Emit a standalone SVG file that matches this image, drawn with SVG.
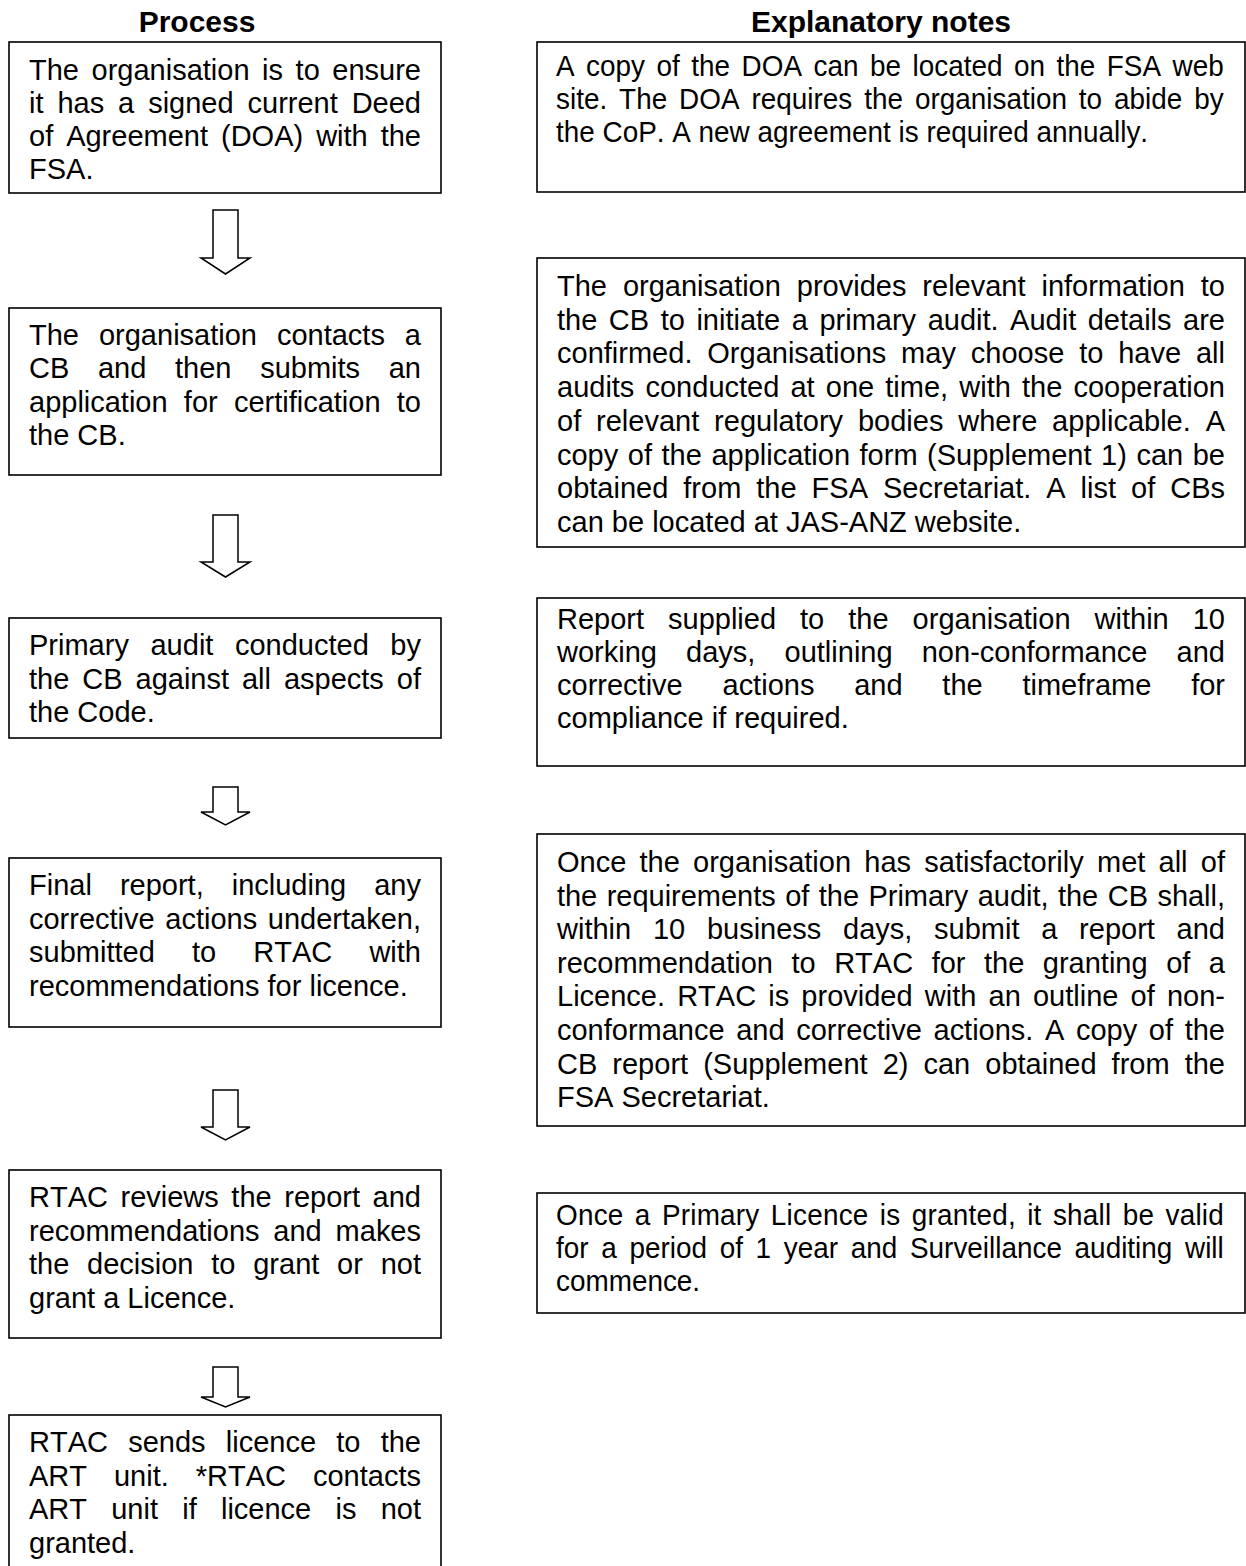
<svg xmlns="http://www.w3.org/2000/svg" width="1246" height="1566" viewBox="0 0 1246 1566">
<style>
.box{fill:#fff;stroke:#000;stroke-width:1.6}
.arr{fill:#fff;stroke:#000;stroke-width:1.5;stroke-linejoin:miter}
.t{font-family:"Liberation Sans",Arial,sans-serif;font-size:29px;fill:#000;font-kerning:none}
.n{font-family:"Liberation Sans",Arial,sans-serif;font-size:30px;fill:#000;font-kerning:none}
.h{font-family:"Liberation Sans",Arial,sans-serif;font-size:30px;font-weight:bold;fill:#000;text-anchor:middle}
</style>
<rect width="1246" height="1566" fill="#fff"/>
<g id="titles">
<text class="h" x="197" y="32">Process</text>
<text class="h" x="881" y="32">Explanatory notes</text>
</g>
<g id="connectors">
<path class="arr" d="M213,210 H238 V258 H250 L225.5,274 L201,258 H213 Z"/>
<path class="arr" d="M213,515 H238 V562 H250 L225.5,577 L201,562 H213 Z"/>
<path class="arr" d="M213,787 H238 V812 H250 L225.5,825 L201,812 H213 Z"/>
<path class="arr" d="M213,1090 H238 V1127 H250 L225.5,1140 L201,1127 H213 Z"/>
<path class="arr" d="M213,1367 H238 V1397 H250 L225.5,1407 L201,1397 H213 Z"/>
</g>
<g id="p1">
<rect class="box" x="9" y="42" width="432" height="151"/>
<text class="t" x="29" y="80" word-spacing="4.5" textLength="392">The organisation is to ensure</text>
<text class="t" x="29" y="113" word-spacing="5.9" textLength="392">it has a signed current Deed</text>
<text class="t" x="29" y="146" word-spacing="4.9" textLength="392">of Agreement (DOA) with the</text>
<text class="t" x="29" y="179">FSA.</text>
</g>
<g id="p2">
<rect class="box" x="9" y="308" width="432" height="167"/>
<text class="t" x="29" y="345" word-spacing="11.9" textLength="392">The organisation contacts a</text>
<text class="t" x="29" y="378" word-spacing="20.6" textLength="392">CB and then submits an</text>
<text class="t" x="29" y="411.5" word-spacing="8.2" textLength="392">application for certification to</text>
<text class="t" x="29" y="445">the CB.</text>
</g>
<g id="p3">
<rect class="box" x="9" y="618" width="432" height="120"/>
<text class="t" x="29" y="655" word-spacing="13.5" textLength="392">Primary audit conducted by</text>
<text class="t" x="29" y="688.5" word-spacing="4.9" textLength="392">the CB against all aspects of</text>
<text class="t" x="29" y="722">the Code.</text>
</g>
<g id="p4">
<rect class="box" x="9" y="858" width="432" height="169"/>
<text class="t" x="29" y="895" word-spacing="20" textLength="392">Final report, including any</text>
<text class="t" x="29" y="928.5" word-spacing="2.6" textLength="392">corrective actions undertaken,</text>
<text class="t" x="29" y="962" word-spacing="29.1" textLength="392">submitted to RTAC with</text>
<text class="t" x="29" y="995.5">recommendations for licence.</text>
</g>
<g id="p5">
<rect class="box" x="9" y="1170" width="432" height="168"/>
<text class="t" x="29" y="1207" word-spacing="4.5" textLength="392">RTAC reviews the report and</text>
<text class="t" x="29" y="1240.5" word-spacing="5.8" textLength="392">recommendations and makes</text>
<text class="t" x="29" y="1274" word-spacing="9.7" textLength="392">the decision to grant or not</text>
<text class="t" x="29" y="1307.5">grant a Licence.</text>
</g>
<g id="p6">
<rect class="box" x="9" y="1415" width="432" height="170"/>
<text class="t" x="29" y="1452" word-spacing="12.2" textLength="392">RTAC sends licence to the</text>
<text class="t" x="29" y="1485.5" word-spacing="18.9" textLength="392">ART unit. *RTAC contacts</text>
<text class="t" x="29" y="1519" word-spacing="16.2" textLength="392">ART unit if licence is not</text>
<text class="t" x="29" y="1552.5">granted.</text>
</g>
<g id="n1">
<rect class="box" x="537" y="42" width="708" height="150"/>
<text class="n" transform="translate(556,76) scale(0.93,1)" word-spacing="4" textLength="718">A copy of the DOA can be located on the FSA web</text>
<text class="n" transform="translate(556,109) scale(0.93,1)" word-spacing="4.5" textLength="718">site. The DOA requires the organisation to abide by</text>
<text class="n" transform="translate(556,142) scale(0.93,1)">the CoP. A new agreement is required annually.</text>
</g>
<g id="n2">
<rect class="box" x="537" y="258" width="708" height="289"/>
<text class="t" x="557" y="296" word-spacing="7.9" textLength="668">The organisation provides relevant information to</text>
<text class="t" x="557" y="329.7" word-spacing="3.5" textLength="668">the CB to initiate a primary audit. Audit details are</text>
<text class="t" x="557" y="363.4" word-spacing="6.8" textLength="668">confirmed. Organisations may choose to have all</text>
<text class="t" x="557" y="397.1" word-spacing="3.1" textLength="668">audits conducted at one time, with the cooperation</text>
<text class="t" x="557" y="430.8" word-spacing="6.8" textLength="668">of relevant regulatory bodies where applicable. A</text>
<text class="t" x="557" y="464.5" word-spacing="1.5" textLength="668">copy of the application form (Supplement 1) can be</text>
<text class="t" x="557" y="498.2" word-spacing="6.9" textLength="668">obtained from the FSA Secretariat. A list of CBs</text>
<text class="t" x="557" y="531.9">can be located at JAS-ANZ website.</text>
</g>
<g id="n3">
<rect class="box" x="537" y="598" width="708" height="168"/>
<text class="t" x="557" y="629" word-spacing="16" textLength="668">Report supplied to the organisation within 10</text>
<text class="t" x="557" y="662" word-spacing="21.1" textLength="668">working days, outlining non-conformance and</text>
<text class="t" x="557" y="695" word-spacing="31.7" textLength="668">corrective actions and the timeframe for</text>
<text class="t" x="557" y="728">compliance if required.</text>
</g>
<g id="n4">
<rect class="box" x="537" y="834" width="708" height="292"/>
<text class="t" x="557" y="872" word-spacing="5.2" textLength="668">Once the organisation has satisfactorily met all of</text>
<text class="t" x="557" y="905.6" word-spacing="1.5" textLength="668">the requirements of the Primary audit, the CB shall,</text>
<text class="t" x="557" y="939.2" word-spacing="13.7" textLength="668">within 10 business days, submit a report and</text>
<text class="t" x="557" y="972.8" word-spacing="10.5" textLength="668">recommendation to RTAC for the granting of a</text>
<text class="t" x="557" y="1006.4" word-spacing="4.1" textLength="668">Licence. RTAC is provided with an outline of non-</text>
<text class="t" x="557" y="1040" word-spacing="3.6" textLength="668">conformance and corrective actions. A copy of the</text>
<text class="t" x="557" y="1073.6" word-spacing="7" textLength="668">CB report (Supplement 2) can obtained from the</text>
<text class="t" x="557" y="1107.2">FSA Secretariat.</text>
</g>
<g id="n5">
<rect class="box" x="537" y="1193" width="708" height="120"/>
<text class="n" transform="translate(556,1225) scale(0.93,1)" word-spacing="3.6" textLength="718">Once a Primary Licence is granted, it shall be valid</text>
<text class="n" transform="translate(556,1258) scale(0.93,1)" word-spacing="5.3" textLength="718">for a period of 1 year and Surveillance auditing will</text>
<text class="n" transform="translate(556,1291) scale(0.93,1)">commence.</text>
</g>
</svg>
